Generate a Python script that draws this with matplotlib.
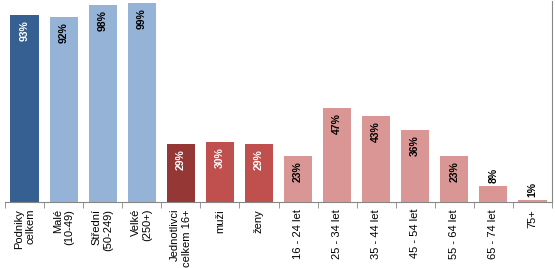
import numpy as np
import matplotlib.pyplot as plt

labels = ['Podniky\ncelkem', 'Malé\n(10-49)', 'Střední\n(50-249)', 'Velké\n(250+)',
          'Jednotlivci\ncelkem 16+', 'muži', 'ženy', '16 - 24 let', '25 - 34 let',
          '35 - 44 let', '45 - 54 let', '55 - 64 let', '65 - 74 let', '75+']
values = [93, 92, 98, 99, 29, 30, 29, 23, 47, 43, 36, 23, 8, 1]
colors = ['#376092', '#95b3d7', '#95b3d7', '#95b3d7', '#953735', '#c0504d', '#c0504d',
          '#d99694', '#d99694', '#d99694', '#d99694', '#d99694', '#d99694', '#d99694']
text_colors = ['white', 'black', 'black', 'black', 'white', 'white', 'white',
               'black', 'black', 'black', 'black', 'black', 'black', 'black']

plt.rcParams['font.family'] = ['Liberation Sans', 'DejaVu Sans']

fig = plt.figure(figsize=(5.55, 2.68), dpi=100)
ax = fig.add_axes([5 / 555, 66 / 268, 547 / 555, 201 / 268])

x = np.arange(len(values))
bars = ax.bar(x, values, width=0.72, color=colors)
ax.set_xlim(-0.5, len(values) - 0.5)
ax.set_ylim(0, 100)

for rect, v, tc in zip(bars, values, text_colors):
    cx = rect.get_x() + rect.get_width() / 2
    if v >= 15:
        ax.annotate(f'{v}%', (cx, v), xytext=(0, -4), textcoords='offset points',
                    rotation=90, ha='center', va='top', color=tc,
                    fontsize=7.5, fontweight='bold')
    else:
        ax.annotate(f'{v}%', (cx, v), xytext=(0, 2), textcoords='offset points',
                    rotation=90, ha='center', va='bottom', color=tc,
                    fontsize=7.5, fontweight='bold')

ax.set_xticks(x)
ax.set_xticklabels(labels, rotation=90, fontsize=8, va='top', ha='center',
                   multialignment='right')
ax.tick_params(axis='x', which='major', length=0, pad=5)
ax.set_xticks(np.arange(-0.5, len(values), 1), minor=True)
ax.tick_params(axis='x', which='minor', length=4, color='#868686')
ax.set_yticks([])

for s in ['top', 'left']:
    ax.spines[s].set_visible(False)
for s in ['bottom', 'right']:
    ax.spines[s].set_color('#868686')

fig.savefig('out.png', dpi=100)
